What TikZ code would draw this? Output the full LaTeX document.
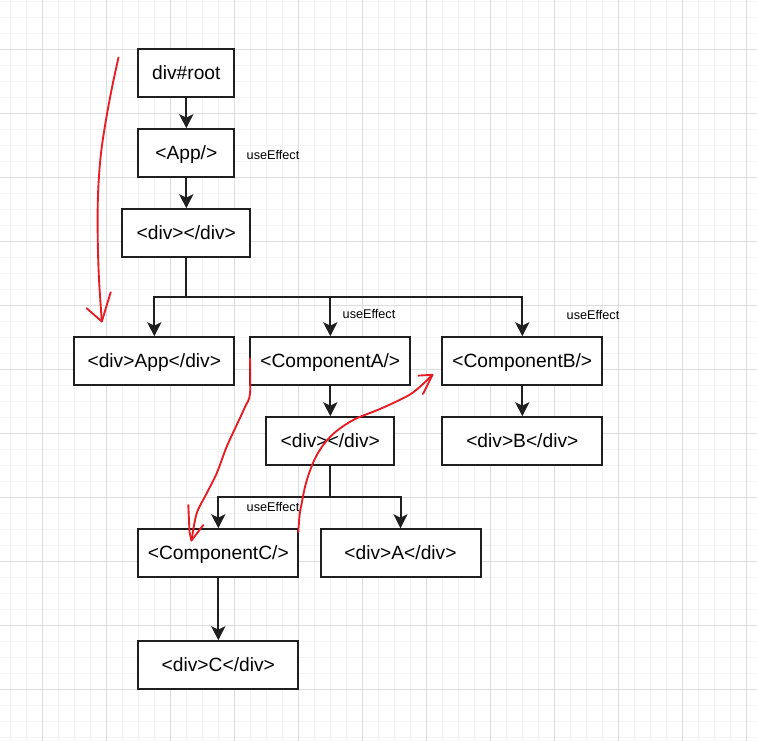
\documentclass[tikz,border=0pt]{standalone}
\usepackage{fontspec}
\setmainfont{Liberation Sans}
\usetikzlibrary{arrows.meta}
\definecolor{minorgrid}{RGB}{243,243,243}
\definecolor{majorgrid}{RGB}{221,221,221}
\definecolor{pen}{RGB}{233,28,36}
\tikzset{
  box/.style={draw=black!88, line width=1.5pt, fill=white, minimum height=36pt,
    inner sep=0pt, text height=10.4pt, text depth=1.4pt,
    font=\fontsize{14.4}{17}\selectfont},
  lbl/.style={inner sep=0pt, font=\fontsize{9.5}{11}\selectfont},
  arr/.style={draw=black!88, line width=1.5pt,
    -{Stealth[length=10.5pt,width=10.5pt,inset=2.5pt]}},
  redpen/.style={draw=pen, line width=1.4pt, line cap=round, line join=round}
}
\begin{document}
\begin{tikzpicture}[x=0.75pt,y=-0.75pt]
% canvas and background grid
\fill[white] (0,0) rectangle (757,741);
\useasboundingbox (0,0) rectangle (757,741);
\foreach \k in {0,...,46} {
  \draw[minorgrid, line width=0.75pt] ({10.3+16*\k},0) -- ({10.3+16*\k},741);
  \draw[minorgrid, line width=0.75pt] (0,{1.3+16*\k}) -- (757,{1.3+16*\k});
}
\foreach \k in {0,...,11} {
  \draw[majorgrid, line width=0.75pt] ({42.3+64*\k},0) -- ({42.3+64*\k},741);
  \draw[majorgrid, line width=0.75pt] (0,{49.3+64*\k}) -- (757,{49.3+64*\k});
}

% component tree
\node[box, minimum width=72pt]  (root)   at (186.3,73.3)  {div\#root};
\node[box, minimum width=72pt]  (app)    at (186.3,153.3) {<App/>};
\node[box, minimum width=96pt]  (div1)   at (186.3,233.3) {<div></div>};
\node[box, minimum width=120pt] (divapp) at (154.3,361.3) {<div>App</div>};
\node[box, minimum width=120pt] (compa)  at (330.3,361.3) {<ComponentA/>};
\node[box, minimum width=120pt] (compb)  at (522.3,361.3) {<ComponentB/>};
\node[box, minimum width=96pt]  (div2)   at (330.3,441.3) {<div></div>};
\node[box, minimum width=120pt] (divb)   at (522.3,441.3) {<div>B</div>};
\node[box, minimum width=120pt] (compc)  at (218.3,553.3) {<ComponentC/>};
\node[box, minimum width=120pt] (diva)   at (400.5,553.3) {<div>A</div>};
\node[box, minimum width=120pt] (divc)   at (218.3,665.3) {<div>C</div>};

% effect labels
\node[lbl] (effapp) at (273,155)   {useEffect};
\node[lbl] (effa)   at (369,314)   {useEffect};
\node[lbl] (effb)   at (593,314.5) {useEffect};
\node[lbl] (effc)   at (273,507)   {useEffect};

% branch points
\coordinate (b1) at (186.3,297.3);
\coordinate (b2) at (330.3,497.3);

% edges
\draw[arr] (root) -- (app);
\draw[arr] (app) -- (div1);
\draw[arr] (div1.south) -- (b1) -| (divapp.north);
\draw[arr] (b1) -| (compa.north);
\draw[arr] (b1) -| (compb.north);
\draw[arr] (compa) -- (div2);
\draw[arr] (compb) -- (divb);
\draw[arr] (div2.south) -- (b2) -| (compc.north);
\draw[arr] (b2) -| (diva.north);
\draw[arr] (compc) -- (divc);

% hand-drawn traversal marks
\coordinate (p1s) at (118.5,57.5);
\coordinate (p1e) at (101.8,321.5);
\draw[redpen] plot[smooth, tension=0.6] coordinates
  {(p1s) (111.5,90) (104.8,127) (100.5,158) (98,195) (97.7,235) (98.8,275) (101,310) (p1e)};
\draw[redpen] (86.7,308.3) -- (p1e) -- (110.7,292.3);

\coordinate (p2s) at (250,358.3);
\coordinate (p2e) at (191.5,540.5);
\draw[redpen] plot[smooth, tension=0.5] coordinates
  {(p2s) (250,394) (245,407) (236.7,425) (226.7,446.7) (216.7,473.3) (206.7,493.3) (196.7,513.3) (p2e)};
\draw[redpen] (188.3,505) -- (189.5,532) -- (p2e) -- (203.3,525);

\coordinate (p3s) at (298.3,532);
\coordinate (p3e) at (432.5,374.8);
\draw[redpen] plot[smooth, tension=0.6] coordinates
  {(p3s) (299.6,515) (301.7,503.3) (306,483) (313,463) (320.5,449) (330,437) (342,427) (356.7,418.3) (380,409) (403,398.3) (413,392.5) (423,384) (p3e)};
\draw[redpen] (418.5,375.6) -- (p3e) -- (423,394);
\end{tikzpicture}
\end{document}
